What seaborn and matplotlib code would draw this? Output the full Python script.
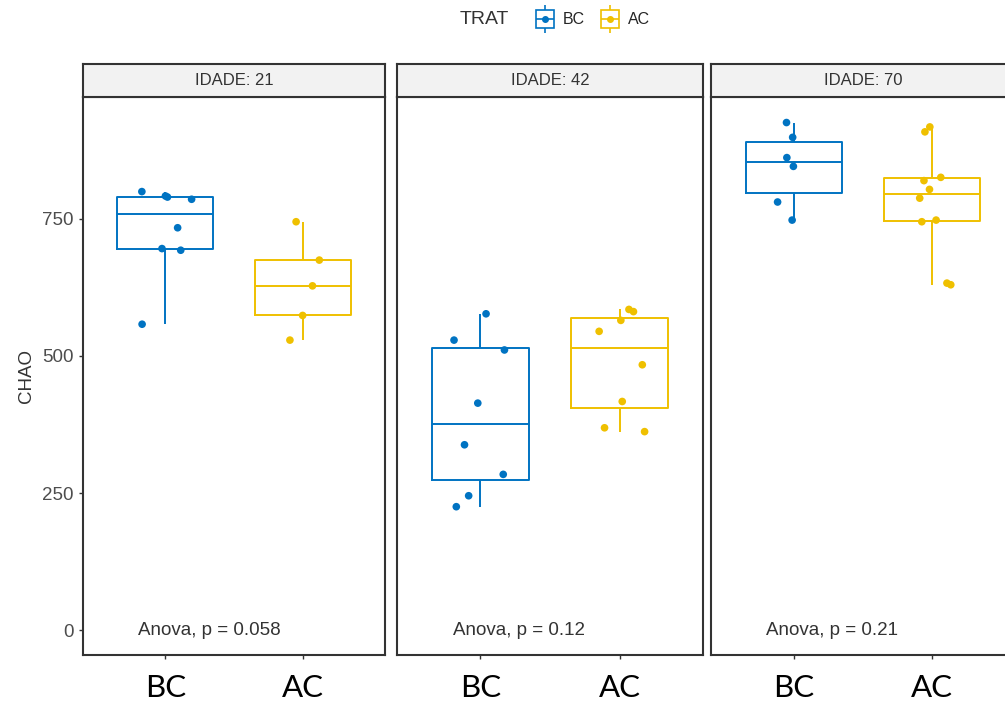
import numpy as np
import pandas as pd
import matplotlib
matplotlib.use("Agg")
import matplotlib.pyplot as plt
from matplotlib.lines import Line2D
from matplotlib.legend_handler import HandlerTuple
import seaborn as sns

sns.set_theme(style="white")
plt.rcParams['font.family'] = ['Liberation Sans', 'DejaVu Sans']

# Data (CHAO index by treatment and age)
trat_order = ['BC', 'AC']
idades = [21, 42, 70]
bc_21 = [558, 693, 696, 734, 786, 790, 792, 800]
ac_21 = [529, 574, 628, 675, 745]
bc_42 = [225, 245, 284, 338, 414, 511, 529, 577]
ac_42 = [362, 369, 417, 484, 545, 565, 581, 585]
bc_70 = [748, 781, 846, 862, 899, 926]
ac_70 = [630, 633, 745, 748, 788, 804, 820, 826, 909, 918]
p_labels = ['Anova, p = 0.058', 'Anova, p = 0.12', 'Anova, p = 0.21']

pal = {'BC': '#0073C2', 'AC': '#EFC000'}

rows = []
for idade, bc, ac in zip(idades, [bc_21, bc_42, bc_70], [ac_21, ac_42, ac_70]):
    rows += [{'IDADE': idade, 'TRAT': 'BC', 'CHAO': v} for v in bc]
    rows += [{'IDADE': idade, 'TRAT': 'AC', 'CHAO': v} for v in ac]
df = pd.DataFrame(rows)

np.random.seed(7)
W, H = 1005, 706
fig = plt.figure(figsize=(W / 100, H / 100), dpi=100)
fig.patch.set_facecolor('white')

# panel geometry in pixels
lefts = [83, 397, 711]
widths = [302, 306, 304]
top, bottom, strip_top = 97, 655, 64
border = '#333333'

for i, idade in enumerate(idades):
    l, w = lefts[i], widths[i]
    ax = fig.add_axes([l / W, 1 - bottom / H, w / W, (bottom - top) / H])
    sub = df[df['IDADE'] == idade]
    sns.boxplot(data=sub, x='TRAT', y='CHAO', hue='TRAT', order=trat_order,
                hue_order=trat_order, palette=pal, fill=False, width=0.7,
                linewidth=1.4, showfliers=False, showcaps=False, legend=False, ax=ax)
    sns.stripplot(data=sub, x='TRAT', y='CHAO', hue='TRAT', order=trat_order,
                  hue_order=trat_order, palette=pal, jitter=0.2, size=5.5,
                  legend=False, ax=ax, zorder=3)
    ax.set_xlim(-0.6, 1.6)
    ax.set_ylim(-45.6, 972.6)
    ax.set_yticks([0, 250, 500, 750])
    ax.set_xlabel('')
    ax.text(-0.2, 0, p_labels[i], ha='left', va='center', fontsize=13.5, color='#333333')
    for s in ax.spines.values():
        s.set_color(border)
        s.set_linewidth(1.5)
    ax.tick_params(axis='x', bottom=True, length=3, width=1, color=border, pad=11)
    for t in ax.get_xticklabels():
        t.set_fontfamily(['Lato', 'DejaVu Sans'])
        t.set_fontsize(22.5)
        t.set_color('black')
    if i == 0:
        ax.tick_params(axis='y', left=True, length=3, width=1, color=border,
                       labelsize=13.5, labelcolor='#4D4D4D', pad=4)
        ax.set_ylabel('CHAO', fontsize=13.5, color='#333333', labelpad=5)
    else:
        ax.set_ylabel('')
        ax.tick_params(axis='y', left=False, labelleft=False)

    # facet strip
    sax = fig.add_axes([l / W, 1 - top / H, w / W, (top - strip_top) / H])
    sax.set_facecolor('#F2F2F2')
    sax.set_xticks([])
    sax.set_yticks([])
    for s in sax.spines.values():
        s.set_color(border)
        s.set_linewidth(1.5)
    sax.text(0.5, 0.5, f'IDADE: {idade}', ha='center', va='center',
             fontsize=12, color='#333333', transform=sax.transAxes)

# legend on top
fig.text(460 / W, 1 - 20 / H, 'TRAT', ha='left', va='center', fontsize=14, color='#333333')
handles = []
for t in trat_order:
    c = pal[t]
    handles.append((Line2D([], [], marker='|', color=c, ms=20, mew=1.2, ls=''),
                    Line2D([], [], marker='s', mfc='white', mec=c, ms=13, mew=1.2, ls=''),
                    Line2D([], [], marker='_', color=c, ms=13, mew=1.2, ls=''),
                    Line2D([], [], marker='o', color=c, ms=4, ls='')))
fig.legend(handles, trat_order, loc='center left', bbox_to_anchor=(518 / W, 1 - 20 / H),
           ncol=2, frameon=False, fontsize=11.5, handlelength=1.6, handletextpad=0.3,
           columnspacing=0.8, handler_map={tuple: HandlerTuple(ndivide=1)})

fig.savefig('out.png', dpi=100)
